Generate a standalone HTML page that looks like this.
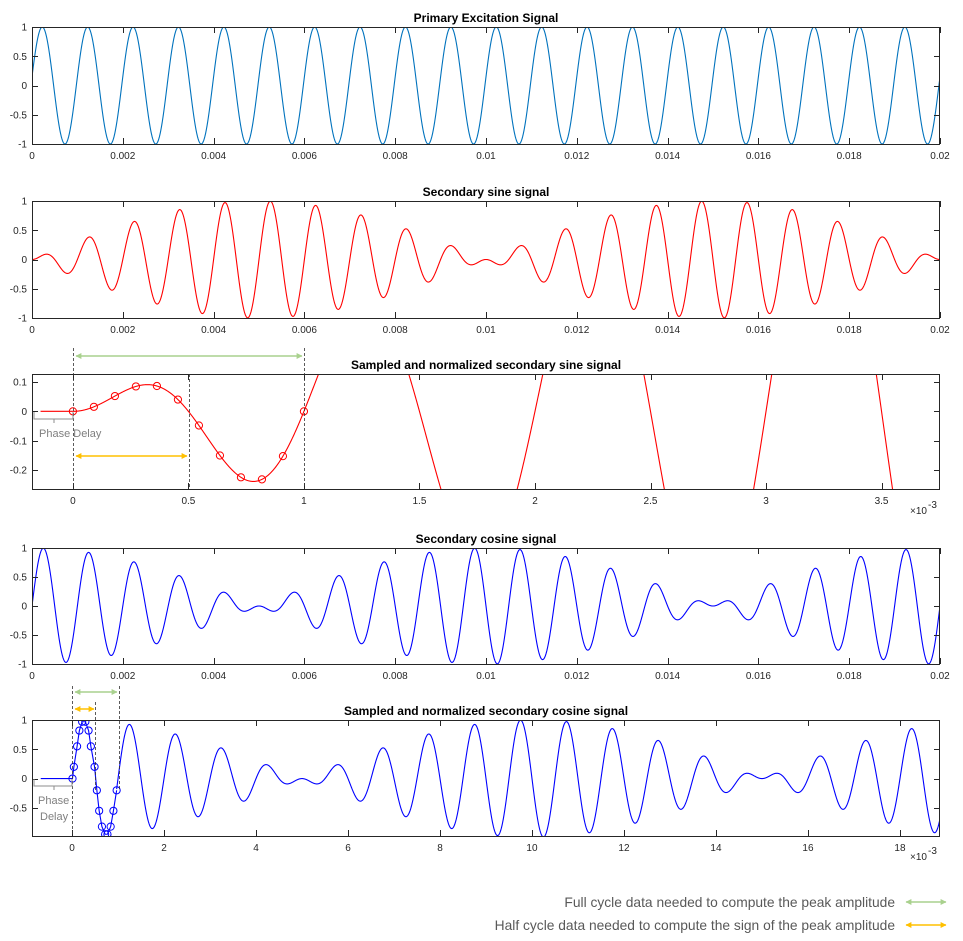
<!DOCTYPE html>
<html><head><meta charset="utf-8">
<style>
body{margin:0;background:#fff;}
svg{display:block;font-family:"Liberation Sans",Arial,sans-serif;}
.t{font-size:10px;fill:#262626;}
.ti{font-size:12px;font-weight:bold;fill:#000;}
.g{font-size:11px;fill:#7f7f7f;}
.lg{font-size:13.8px;fill:#595959;}
</style></head>
<body>
<svg id="s" width="963" height="941" viewBox="0 0 963 941" xmlns="http://www.w3.org/2000/svg">
<defs>
<marker id="ag" viewBox="0 0 10 10" refX="9" refY="5" markerWidth="4" markerHeight="4" orient="auto-start-reverse"><path d="M0,0L10,5L0,10z" fill="#a9d18e"/></marker>
<marker id="ao" viewBox="0 0 10 10" refX="9" refY="5" markerWidth="4" markerHeight="4" orient="auto-start-reverse"><path d="M0,0L10,5L0,10z" fill="#ffc000"/></marker>
</defs>
<g id="root"></g>
</svg>
<script>
var NS="http://www.w3.org/2000/svg",root=document.getElementById('root'),defs=document.querySelector('defs');
function el(n,a,p,txt){if(typeof p==='string'){txt=p;p=null;}var e=document.createElementNS(NS,n);for(var k in a)e.setAttribute(k,a[k]);if(txt!==undefined&&txt!==null)e.textContent=txt;(p||root).appendChild(e);return e;}
var PI=Math.PI;
function prim(t){return Math.sin(2*PI*1000*t+0.15);}
function sec(t){return Math.sin(2*PI*50*t)*Math.sin(2*PI*1000*t);}
function cosg(t){return Math.cos(2*PI*50*t)*Math.sin(2*PI*1000*t);}
var cid=0;
function axes(o){
 var X=function(v){return o.x0+(v-o.xmin)/(o.xmax-o.xmin)*(o.x1-o.x0);};
 var Y=function(v){return o.yB-(v-o.ymin)/(o.ymax-o.ymin)*(o.yB-o.yT);};
 var id='c'+(cid++);
 var cp=el('clipPath',{id:id},defs);el('rect',{x:o.x0,y:o.yT,width:o.x1-o.x0,height:o.yB-o.yT},cp);
 var g=el('g',{'clip-path':'url(#'+id+')'});
 o.series.forEach(function(s){
  var d='';
  if(s.pts){s.pts.forEach(function(p,i){d+=(i?'L':'M')+X(p[0]).toFixed(2)+','+Y(p[1]).toFixed(2);});}
  else{var n=s.n||3000;for(var i=0;i<=n;i++){var t=s.a+(s.b-s.a)*i/n;d+=(i?'L':'M')+X(t).toFixed(2)+','+Y(s.f(t)).toFixed(2);}}
  el('path',{d:d,fill:'none',stroke:s.c,'stroke-width':1.1},g);
  if(s.circ)s.circ.forEach(function(p){el('circle',{cx:X(p[0]),cy:Y(p[1]),r:3.6,fill:'none',stroke:s.c,'stroke-width':1},g);});
 });
 el('rect',{x:o.x0+.5,y:o.yT+.5,width:o.x1-o.x0-1,height:o.yB-o.yT,fill:'none',stroke:'#262626','stroke-width':1});
 o.xt.forEach(function(v,i){var x=Math.round(X(v))+.5;
  el('line',{x1:x,x2:x,y1:o.yB,y2:o.yB-6,stroke:'#262626'});el('line',{x1:x,x2:x,y1:o.yT,y2:o.yT+6,stroke:'#262626'});
  el('text',{x:X(v),y:o.yB+15,'text-anchor':'middle','class':'t'},null,o.xl[i]);});
 o.yt.forEach(function(v,i){var y=Math.round(Y(v))+.5;
  el('line',{x1:o.x0,x2:o.x0+6,y1:y,y2:y,stroke:'#262626'});el('line',{x1:o.x1,x2:o.x1-6,y1:y,y2:y,stroke:'#262626'});
  el('text',{x:o.x0-5,y:Y(v)+3.5,'text-anchor':'end','class':'t'},null,o.yl[i]);});
 el('text',{x:486,y:o.yT-5,'text-anchor':'middle','class':'ti'},null,o.title);
 return {X:X,Y:Y};
}
var xt1=[],xl1=[];for(var k=0;k<=10;k++){xt1.push(k*0.002);xl1.push(k==0?'0':(k==5?'0.01':(k==10?'0.02':(k*0.002).toFixed(3))));}
var yt1=[-1,-0.5,0,0.5,1],yl1=['-1','-0.5','0','0.5','1'];
axes({x0:32,x1:940,yT:27,yB:144,xmin:0,xmax:0.02,ymin:-1,ymax:1,xt:xt1,xl:xl1,yt:yt1,yl:yl1,title:'Primary Excitation Signal',
 series:[{f:prim,a:0,b:0.02,c:'#0072bd',n:4000}]});
axes({x0:32,x1:940,yT:201,yB:318,xmin:0,xmax:0.02,ymin:-1,ymax:1,xt:xt1,xl:xl1,yt:yt1,yl:yl1,title:'Secondary sine signal',
 series:[{f:sec,a:0,b:0.02,c:'#ff0000',n:4000}]});
var c3=[];for(var k=0;k<=11;k++){var t=k/11;c3.push([t,sec(t*1e-3)]);}
axes({x0:32,x1:940,yT:374,yB:489,xmin:-0.177,xmax:3.753,ymin:-0.264,ymax:0.127,
 xt:[0,0.5,1,1.5,2,2.5,3,3.5],xl:['0','0.5','1','1.5','2','2.5','3','3.5'],
 yt:[-0.2,-0.1,0,0.1],yl:['-0.2','-0.1','0','0.1'],title:'Sampled and normalized secondary sine signal',
 series:[{pts:[[-0.14,0],[0,0]],c:'#ff0000'},{f:function(t){return sec(t*1e-3);},a:0,b:3.753,c:'#ff0000',n:3000,circ:c3}]});
el('text',{x:910,y:514,'class':'t'},null,'×10');el('text',{x:928,y:508,'class':'t','font-size':'7px'},null,'-3');
axes({x0:32,x1:940,yT:548,yB:664,xmin:0,xmax:0.02,ymin:-1,ymax:1,xt:xt1,xl:xl1,yt:yt1,yl:yl1,title:'Secondary cosine signal',
 series:[{f:cosg,a:0,b:0.02,c:'#0000ff',n:4000}]});
var cx=[0.01,0.04,0.11,0.16,0.22,0.29,0.36,0.41,0.49,0.54,0.59,0.65,0.72,0.77,0.84,0.9,0.97];
var cy=[0,0.2,0.55,0.82,0.97,0.97,0.82,0.55,0.2,-0.2,-0.55,-0.82,-0.95,-0.95,-0.82,-0.55,-0.2];
var c5=cx.map(function(x,i){return [x,cy[i]];});
var p5=[[-0.68,0],[0,0]].concat(c5);
var xt5=[],xl5=[];for(var k=0;k<=18;k+=2){xt5.push(k);xl5.push(''+k);}
axes({x0:32,x1:940,yT:720,yB:836,xmin:-0.87,xmax:18.87,ymin:-0.98,ymax:1,xt:xt5,xl:xl5,
 yt:[-0.5,0,0.5,1],yl:['-0.5','0','0.5','1'],title:'Sampled and normalized secondary cosine signal',
 series:[{pts:p5,c:'#0000ff',circ:c5},{f:function(t){return cosg(t*1e-3);},a:0.97,b:18.87,c:'#0000ff',n:4000}]});
el('text',{x:910,y:860,'class':'t'},null,'×10');el('text',{x:928,y:854,'class':'t','font-size':'7px'},null,'-3');
function dash(x,y1,y2){el('line',{x1:x,x2:x,y1:y1,y2:y2,stroke:'#333','stroke-width':0.8,'stroke-dasharray':'3,2'});}
dash(73.5,348,489);dash(304.5,348,489);dash(189.5,374,489);
el('line',{x1:76,x2:302,y1:356,y2:356,stroke:'#a9d18e','stroke-width':1.5,'marker-start':'url(#ag)','marker-end':'url(#ag)'});
el('line',{x1:76,x2:187,y1:456,y2:456,stroke:'#ffc000','stroke-width':1.5,'marker-start':'url(#ao)','marker-end':'url(#ao)'});
el('path',{d:'M34,412V419H73V412M54,419V423',fill:'none',stroke:'#8c8c8c','stroke-width':1});
el('text',{x:39,y:437,'class':'g'},null,'Phase Delay');
dash(72.5,686,836);dash(119.5,686,790);dash(95.5,702,790);
el('line',{x1:75,x2:117,y1:692,y2:692,stroke:'#a9d18e','stroke-width':1.5,'marker-start':'url(#ag)','marker-end':'url(#ag)'});
el('line',{x1:75,x2:94,y1:709,y2:709,stroke:'#ffc000','stroke-width':1.5,'marker-start':'url(#ao)','marker-end':'url(#ao)'});
el('path',{d:'M34,779V786H72V779M54,786V790',fill:'none',stroke:'#8c8c8c','stroke-width':1});
el('text',{x:38,y:804,'class':'g'},null,'Phase');el('text',{x:40,y:820,'class':'g'},null,'Delay');
el('text',{x:895,y:907,'text-anchor':'end','class':'lg'},null,'Full cycle data needed to compute the peak amplitude');
el('text',{x:895,y:930,'text-anchor':'end','class':'lg'},null,'Half cycle data needed to compute the sign of the peak amplitude');
el('line',{x1:906,x2:946,y1:902,y2:902,stroke:'#a9d18e','stroke-width':1.5,'marker-start':'url(#ag)','marker-end':'url(#ag)'});
el('line',{x1:906,x2:946,y1:925,y2:925,stroke:'#ffc000','stroke-width':1.5,'marker-start':'url(#ao)','marker-end':'url(#ao)'});
</script>
</body></html>
